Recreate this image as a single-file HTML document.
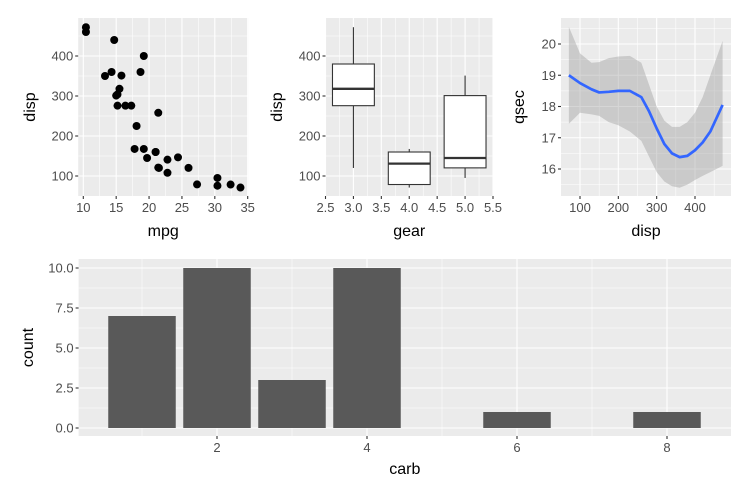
<!DOCTYPE html>
<html><head><meta charset="utf-8"><style>
html,body{margin:0;padding:0;background:#fff}
svg{display:block;font-family:"Liberation Sans",Arial,sans-serif}
.tl{font-size:13px;fill:#4d4d4d}
.at{font-size:16px;fill:#000}
</style></head><body>
<svg id="c" width="750" height="500" viewBox="0 0 750 500"></svg>
<script>
// ---- data ----
const mpg=[21,21,22.8,21.4,18.7,18.1,14.3,24.4,22.8,19.2,17.8,16.4,17.3,15.2,10.4,10.4,14.7,32.4,30.4,33.9,21.5,15.5,15.2,13.3,19.2,27.3,26,30.4,15.8,19.7,15,21.4];
const disp=[160,160,108,258,360,225,360,146.7,140.8,167.6,167.6,275.8,275.8,275.8,472,460,440,78.7,75.7,71.1,120.1,318,304,350,400,79,120.3,95.1,351,145,301,121];
const gears=[3,4,5];
const boxLow=[120.1,71.1,95.1];
const boxQ1=[275.8,78.7,120.3];
const boxMed=[318,130.9,145];
const boxQ3=[380,160,301];
const boxHigh=[472,167.6,351];
const smoothX=[71,100,130,150,175,200,230,260,280,300,320,340,360,380,400,420,440,472];
const smoothY=[19.0,18.75,18.55,18.45,18.47,18.5,18.5,18.3,17.85,17.3,16.8,16.5,16.38,16.42,16.6,16.85,17.2,18.05];
const upperY=[20.55,19.7,19.4,19.42,19.55,19.6,19.62,19.4,18.7,18.0,17.55,17.35,17.35,17.5,17.8,18.3,19.0,20.1];
const lowerY=[17.45,17.8,17.75,17.7,17.5,17.4,17.2,16.9,16.4,15.9,15.6,15.45,15.4,15.5,15.65,15.78,15.9,16.1];
const carb=[1,2,3,4,6,8];
const counts=[7,10,3,10,1,1];
const countTicks=["0.0","2.5","5.0","7.5","10.0"];
// ---- helpers ----
const svg=document.getElementById('c');const NS='http://www.w3.org/2000/svg';
function mk(t,a,p){const e=document.createElementNS(NS,t);for(const k in a)e.setAttribute(k,a[k]);(p||svg).appendChild(e);return e;}
function lin(d0,d1,r0,r1){return v=>r0+(v-d0)/(d1-d0)*(r1-r0);}
function panel(name,L,T,R,B,sx,sy,xMaj,xMin,yMaj,yMin,xLab,yLab,xt,yt,titleY,ytx){
  const g=mk('g',{});
  
  
  mk('rect',{x:L,y:T,width:R-L,height:B-T,fill:'#ebebeb'},g);
  xMin.forEach(v=>mk('line',{x1:sx(v),x2:sx(v),y1:T,y2:B,stroke:'#fff','stroke-width':0.55},g));
  yMin.forEach(v=>mk('line',{y1:sy(v),y2:sy(v),x1:L,x2:R,stroke:'#fff','stroke-width':0.55},g));
  xMaj.forEach((v,i)=>{mk('line',{x1:sx(v),x2:sx(v),y1:T,y2:B,stroke:'#fff','stroke-width':1.1},g);
    mk('line',{x1:sx(v),x2:sx(v),y1:B,y2:B+3,stroke:'#333','stroke-width':1.1},g);
    const t=mk('text',{x:sx(v),y:B+16,'text-anchor':'middle',class:'tl'},g);t.textContent=xLab[i];});
  yMaj.forEach((v,i)=>{mk('line',{y1:sy(v),y2:sy(v),x1:L,x2:R,stroke:'#fff','stroke-width':1.1},g);
    mk('line',{y1:sy(v),y2:sy(v),x1:L-3,x2:L,stroke:'#333','stroke-width':1.1},g);
    const t=mk('text',{x:L-5,y:sy(v)+4.5,'text-anchor':'end',class:'tl'},g);t.textContent=yLab[i];});
  const a=mk('text',{x:(L+R)/2,y:titleY,'text-anchor':'middle',class:'at'});a.textContent=xt;
  
  const b=mk('text',{x:ytx,y:(T+B)/2,'text-anchor':'middle',class:'at',transform:`rotate(-90 ${ytx} ${(T+B)/2})`});b.textContent=yt;
  
  return g;
}
const T1=18,B1=196;
// Panel 1 scatter
const sx1=lin(10,35,83.3,247.7), sy1=lin(100,400,176,56);
const g1=panel('scatter-panel',78.2,T1,248.2,B1,sx1,sy1,[10,15,20,25,30,35],[12.5,17.5,22.5,27.5,32.5],[100,200,300,400],[150,250,350,450],['10','15','20','25','30','35'],['100','200','300','400'],'mpg','disp',236,35);
mpg.forEach((m,i)=>{const c=mk('circle',{cx:sx1(m),cy:sy1(disp[i]),r:4,fill:'#000'},g1);
  });
// Panel 2 boxplot
const sx2=lin(2.5,5.5,325.5,493), sy2=sy1;
const g2=panel('boxplot-panel',325.5,T1,493,B1,sx2,sy2,[2.5,3,3.5,4,4.5,5,5.5],[2.75,3.25,3.75,4.25,4.75,5.25],[100,200,300,400],[150,250,350,450],['2.5','3.0','3.5','4.0','4.5','5.0','5.5'],['100','200','300','400'],'gear','disp',236,282);
gears.forEach((gv,i)=>{const x=sx2(gv),w=sx2(gv+0.375)-x;
  const bg=mk('g',{},g2);
  mk('line',{x1:x,x2:x,y1:sy2(boxHigh[i]),y2:sy2(boxQ3[i]),stroke:'#333','stroke-width':1.1},bg);
  mk('line',{x1:x,x2:x,y1:sy2(boxQ1[i]),y2:sy2(boxLow[i]),stroke:'#333','stroke-width':1.1},bg);
  mk('rect',{x:x-w,y:sy2(boxQ3[i]),width:2*w,height:sy2(boxQ1[i])-sy2(boxQ3[i]),fill:'#fff',stroke:'#333','stroke-width':1.1},bg);
  mk('line',{x1:x-w,x2:x+w,y1:sy2(boxMed[i]),y2:sy2(boxMed[i]),stroke:'#333','stroke-width':2.3},bg);});
// Panel 3 smooth
const sx3=lin(100,400,580,695), sy3=lin(16,20,169,44);
const g3=panel('smooth-panel',561,T1,731,B1,sx3,sy3,[100,200,300,400],[150,250,350,450],[16,17,18,19,20],[15.5,16.5,17.5,18.5,19.5,20.5],['100','200','300','400'],['16','17','18','19','20'],'disp','qsec',236,524);
let pd='';smoothX.forEach((x,i)=>pd+=(i?'L':'M')+sx3(x)+','+sy3(upperY[i]));
for(let i=smoothX.length-1;i>=0;i--)pd+='L'+sx3(smoothX[i])+','+sy3(lowerY[i]);
const rb=mk('path',{d:pd+'Z',fill:'#999','fill-opacity':0.4},g3);
const ln=mk('polyline',{points:smoothX.map((x,i)=>sx3(x)+','+sy3(smoothY[i])).join(' '),fill:'none',stroke:'#3366ff','stroke-width':2.7,'stroke-linejoin':'round'},g3);

// Panel 4 bars
const sx4=lin(2,4,217,367), sy4=lin(0,10,428,268);
const g4=panel('bar-panel',78.6,259,731,436,sx4,sy4,[2,4,6,8],[1,3,5,7],[0,2.5,5,7.5,10],[1.25,3.75,6.25,8.75],['2','4','6','8'],countTicks,'carb','count',474,33);
carb.forEach((c,i)=>{const r=mk('rect',{x:sx4(c-0.45),y:sy4(counts[i]),width:sx4(c+0.45)-sx4(c-0.45),height:sy4(0)-sy4(counts[i]),fill:'#595959'},g4);
  });
</script>
</body></html>
